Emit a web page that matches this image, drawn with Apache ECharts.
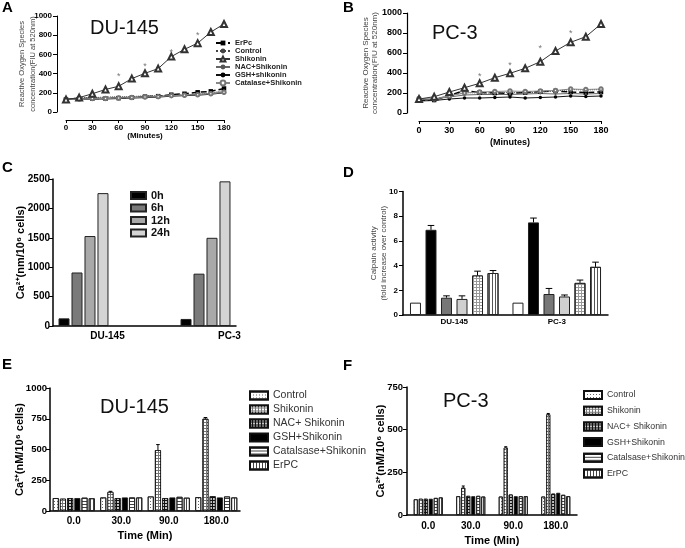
<!DOCTYPE html>
<html><head><meta charset="utf-8">
<script src="https://cdn.jsdelivr.net/npm/echarts/dist/echarts.min.js"></script>
<style>html,body{margin:0;padding:0;background:#fff}#c{width:685px;height:548px}</style>
</head><body><div id="c"></div>
<script>
// ---------- DATA ----------
const minutes = [0,15,30,45,60,75,90,105,120,135,150,165,180];
const rosNames = ['ErPc','Control ','Shikonin ','NAC+Shikonin','GSH+shikonin','Catalase+Shikonin'];
// Panel A (DU-145)
const A_ErPc      = [130,140,140,140,145,150,160,165,180,190,205,215,245];
const A_Control   = [130,150,150,155,160,160,170,170,175,180,185,195,225];
const A_Shikonin  = [130,150,190,235,268,348,403,452,577,653,717,833,917];
const A_NAC       = [130,140,145,145,150,155,160,160,170,175,185,190,210];
const A_GSH       = [130,135,135,135,140,145,150,155,165,170,175,185,200];
const A_Catalase  = [130,135,140,140,145,150,155,160,170,175,180,190,205];
const A_sigX = [60,90,120,150];
const A_sigY = [368,472,618,792];
// Panel B (PC-3)
const B_ErPc      = [125,130,175,225,205,200,195,205,215,220,210,205,210];
const B_Control   = [130,135,180,205,200,200,205,200,210,220,235,230,235];
const B_Shikonin  = [140,163,210,253,297,353,397,447,513,620,707,763,890];
const B_NAC       = [130,140,160,180,185,185,185,190,195,190,195,190,195];
const B_GSH       = [120,125,140,150,150,155,160,150,155,160,170,165,170];
const B_Catalase  = [145,140,170,200,210,215,220,215,220,225,240,235,240];
const B_sigX = [60,90,120,150];
const B_sigY = [365,478,645,795];
// Panel C
const cellLines = ['DU-145','PC-3'];
const cHours = ['0h','6h','12h','24h'];
const C_0h  = [130,120];
const C_6h  = [910,890];
const C_12h = [1530,1500];
const C_24h = [2260,2460];
// Panel D (calpain activity, six treatments)
const D_vals = [[1.0,1.0],[6.9,7.5],[1.4,1.7],[1.3,1.5],[3.2,2.6],[3.4,3.9]];
const D_errs = [[0,0],[0.35,0.35],[0.15,0.45],[0.25,0.12],[0.35,0.23],[0.2,0.38]];
// Panels E/F
const timeCats = ['0.0','30.0','90.0','180.0'];
const efNames = ['Control','Shikonin','NAC+ Shikonin','GSH+Shikonin','Catalsase+Shikonin','ErPC'];
const E_Control  = [105,110,118,112];
const E_Shikonin = [100,155,495,750];
const E_NAC      = [105,105,105,120];
const E_GSH      = [105,110,110,110];
const E_Catalase = [108,110,115,118];
const E_ErPC     = [103,110,108,110];
const E_ShikErr  = [0,5,45,10];
const F_Control  = [92,110,108,108];
const F_Shikonin = [95,160,395,590];
const F_NAC      = [95,112,120,125];
const F_GSH      = [95,110,110,130];
const F_Catalase = [100,112,110,118];
const F_ErPC     = [103,108,110,110];
const F_ShikErr  = [0,10,5,5];

// ---------- STYLE ----------
const FONT = '"Liberation Sans", Arial, sans-serif';
const chart = echarts.init(document.getElementById('c'));

const rosStyles = [
  {symbol:'rect', symbolSize:4.5, line:{color:'#000', width:1.5, type:'dashed'}, item:{color:'#000'}},
  {symbol:'circle', symbolSize:2, line:{color:'#444', width:1, type:'dotted'}, item:{color:'#444'}},
  {symbol:'emptyTriangle', symbolSize:6, line:{color:'#333', width:1}, item:{color:'#333', borderWidth:0.8}},
  {symbol:'circle', symbolSize:2, line:{color:'#666', width:1}, item:{color:'#555'}},
  {symbol:'circle', symbolSize:3.5, line:{color:'#111', width:1}, item:{color:'#000'}},
  {symbol:'emptyCircle', symbolSize:3.5, line:{color:'#888', width:1}, item:{color:'#777', borderWidth:0.8}}
];
const efStyles = [
  {color:'#fff', decal:{symbol:'rect', symbolSize:1, dashArrayX:[1,2], dashArrayY:[1,2], color:'#666'}},
  {color:'#777', decal:{symbol:'rect', symbolSize:1, dashArrayX:[2,1], dashArrayY:[2,1], color:'#fff'}},
  {color:'#111', decal:{symbol:'circle', symbolSize:1, dashArrayX:[2,1], dashArrayY:[2,1], color:'#fff'}},
  {color:'#000'},
  {color:'#fff', decal:{symbol:'rect', symbolSize:1, dashArrayX:[1,0], dashArrayY:[1,2], color:'#444'}},
  {color:'#fff', decal:{symbol:'rect', symbolSize:1, dashArrayX:[1,2], dashArrayY:[1,0], color:'#444'}}
];
const dStyles = [
  {color:'#fff'},
  {color:'#000'},
  {color:'#777'},
  {color:'#d0d0d0'},
  {color:'#999', decal:{symbol:'rect', symbolSize:1, dashArrayX:[2,1], dashArrayY:[2,1], color:'#fff'}},
  {color:'#fff', decal:{symbol:'rect', symbolSize:1, dashArrayX:[1,2], dashArrayY:[1,0], color:'#555'}}
];
const cColors = ['#000','#7a7a7a','#a9a9a9','#d4d4d4'];

function lbl(size, extra){ return Object.assign({fontSize:size, fontWeight:'bold', color:'#000', fontFamily:FONT}, extra||{}); }
function line(w){ return {show:true, onZero:false, lineStyle:{color:'#000', width:w}}; }
const plain = v => String(v);

const grids = [
  {left:66, top:16, width:158, height:96},
  {left:419, top:13, width:182, height:100},
  {left:53, top:179, width:183, height:147},
  {left:403, top:191.5, width:205, height:123.5},
  {left:50, top:388, width:190, height:123},
  {left:407, top:387, width:170, height:128}
].map(g => Object.assign({containLabel:false, outerBoundsMode:'none'}, g));

const xAxes = [
  {gridIndex:0, type:'value', min:0, max:180, interval:30, offset:8, axisLine:line(1), axisTick:{length:3, lineStyle:{color:'#000'}},
   axisLabel:lbl(8,{margin:4, formatter:plain}), splitLine:{show:false}, name:'(Minutes)', nameLocation:'middle', nameGap:12, nameMoveOverlap:false, nameTextStyle:lbl(8)},
  {gridIndex:1, type:'value', min:0, max:180, interval:30, offset:8, axisLine:line(1.2), axisTick:{length:3, lineStyle:{color:'#000'}},
   axisLabel:lbl(9,{margin:5, formatter:plain}), splitLine:{show:false}, name:'(Minutes)', nameLocation:'middle', nameGap:17, nameMoveOverlap:false, nameTextStyle:lbl(9)},
  {gridIndex:2, type:'category', data:[cellLines[0],'',cellLines[1]], axisLine:line(1.5), axisTick:{show:false},
   axisLabel:lbl(10,{margin:5, interval:0, padding:[0,0,0,48]})},
  {gridIndex:3, type:'category', data:cellLines, axisLine:line(1.5), axisTick:{show:false}, axisLabel:lbl(8,{margin:3, interval:0})},
  {gridIndex:4, type:'category', data:timeCats, axisLine:line(1.5), axisTick:{show:false}, axisLabel:lbl(10,{margin:5, interval:0}),
   name:'Time (Min)', nameLocation:'middle', nameGap:19, nameMoveOverlap:false, nameTextStyle:lbl(11)},
  {gridIndex:5, type:'category', data:timeCats, axisLine:line(1.5), axisTick:{show:false}, axisLabel:lbl(10,{margin:6, interval:0}),
   name:'Time (Min)', nameLocation:'middle', nameGap:20, nameMoveOverlap:false, nameTextStyle:lbl(11)}
];
function yAx(gi, max, interval, offset, size, margin, name, gap, nameStyle, w){
  return {gridIndex:gi, type:'value', min:0, max:max, interval:interval, offset:offset, axisLine:line(w),
    axisTick:{show:true, length:4, lineStyle:{color:'#000', width:1}}, axisLabel:lbl(size,{margin:margin, formatter:plain}), splitLine:{show:false},
    name:name, nameLocation:'middle', nameRotate:90, nameGap:gap, nameMoveOverlap:false, nameTextStyle:nameStyle};
}
const yAxes = [
  yAx(0,1000,200,9,8,5,'Reactive Oxygen Species\nconcentration(FIU at 520nm)',19,{fontSize:7.5,color:'#444',lineHeight:11,fontFamily:FONT},1),
  yAx(1,1000,200,12,9,5,'Reactive Oxygen Species\nconcentration(FIU at 520nm)',28,{fontSize:8,color:'#444',lineHeight:9,fontFamily:FONT},1.2),
  yAx(2,2500,500,0,10,3,'Ca\u00B2\u207A(nm/10\u2076 cells)',27,lbl(11),1.5),
  yAx(3,10,2,0,8,5,'Calpain activity\n(fold increase over control)',14,{fontSize:8,color:'#444',lineHeight:10,fontFamily:FONT},1.5),
  yAx(4,1000,250,0,9.5,3,'Ca\u00B2\u207A(nM/10\u2076 cells)',25,lbl(11),1.5),
  yAx(5,750,250,0,9.5,4,'Ca\u00B2\u207A(nM/10\u2076 cells)',21,lbl(11),1.5)
];

const series = [];
const A_sets = [A_ErPc,A_Control,A_Shikonin,A_NAC,A_GSH,A_Catalase];
const B_sets = [B_ErPc,B_Control,B_Shikonin,B_NAC,B_GSH,B_Catalase];
[[A_sets,0],[B_sets,1]].forEach(([sets,gi]) => {
  sets.forEach((vals,k) => {
    const s = rosStyles[k];
    series.push({type:'line', name:rosNames[k], xAxisIndex:gi, yAxisIndex:gi, symbol:s.symbol, symbolSize:s.symbolSize,
      showAllSymbol:true, lineStyle:s.line, itemStyle:s.item, z:k===2?4:3, animation:false,
      data:minutes.map((m,i)=>[m, vals[i]])});
  });
});
[[A_sigX,A_sigY,0],[B_sigX,B_sigY,1]].forEach(([xs,ys,gi]) => {
  series.push({type:'scatter', name:'sig'+gi, xAxisIndex:gi, yAxisIndex:gi, symbol:'circle', symbolSize:1,
    itemStyle:{color:'rgba(0,0,0,0)'}, label:{show:true, position:'inside', formatter:'*', fontSize:9, color:'#555', fontFamily:FONT},
    data:xs.map((x,i)=>[x, ys[i]]), animation:false});
});
// Panel C
[C_0h,C_6h,C_12h,C_24h].forEach((v,i) => {
  series.push({type:'bar', name:cHours[i], xAxisIndex:2, yAxisIndex:2, barWidth:11, barGap:'18%',
    itemStyle:{color:cColors[i], borderColor:'#222', borderWidth:1}, data:[v[0],'-',v[1]], animation:false});
});
// error bar helper
function errSeries(gi, count, barWidth, barGap, items){
  return {type:'custom', xAxisIndex:gi, yAxisIndex:gi, z:5, animation:false, silent:true,
    encode:{x:0, y:1}, data:items,
    renderItem:function(params, api){
      const layout = api.barLayout({count:count, barWidth:barWidth, barGap:barGap});
      const k = api.value(3);
      const base = api.coord([api.value(0), api.value(1)]);
      const top = api.coord([api.value(0), api.value(1)+api.value(2)]);
      const x = base[0] + layout[k].offsetCenter;
      const hw = Math.max(1.5, layout[k].width*0.3);
      return {type:'group', children:[
        {type:'line', shape:{x1:x, y1:base[1], x2:x, y2:top[1]}, style:{stroke:'#000', lineWidth:1}},
        {type:'line', shape:{x1:x-hw, y1:top[1], x2:x+hw, y2:top[1]}, style:{stroke:'#000', lineWidth:1}}
      ]};
    }};
}
// Panel D
const dErr = [];
D_vals.forEach((v,k) => {
  series.push({type:'bar', name:'Calpain '+(k+1), xAxisIndex:3, yAxisIndex:3, barWidth:11, barGap:'41%',
    itemStyle:Object.assign({borderColor:'#222', borderWidth:1}, dStyles[k]), data:v, animation:false});
  v.forEach((val,g) => { if (D_errs[k][g] > 0) dErr.push([g, val, D_errs[k][g], k]); });
});
series.push(errSeries(3, 6, 11, '41%', dErr));
// Panels E, F
const E_sets = [E_Control,E_Shikonin,E_NAC,E_GSH,E_Catalase,E_ErPC];
const F_sets = [F_Control,F_Shikonin,F_NAC,F_GSH,F_Catalase,F_ErPC];
[[E_sets,4,6,'20%',E_ShikErr],[F_sets,5,4,'25%',F_ShikErr]].forEach(([sets,gi,bw,gap,errs]) => {
  sets.forEach((vals,k) => {
    series.push({type:'bar', name:efNames[k], xAxisIndex:gi, yAxisIndex:gi, barWidth:bw, barGap:gap,
      itemStyle:Object.assign({borderColor:'#111', borderWidth:0.8}, efStyles[k]), data:vals, animation:false});
  });
  const items = [];
  errs.forEach((e,g) => { if (e > 0) items.push([g, sets[1][g], e, 1]); });
  series.push(errSeries(gi, 6, bw, gap, items));
});

function letter(t, l, tp){ return {text:t, left:l, top:tp, padding:0, textStyle:{fontSize:15, fontWeight:'bold', color:'#000', fontFamily:FONT}}; }
function ptitle(t, l, tp){ return {text:t, left:l, top:tp, padding:0, textStyle:{fontSize:20, fontWeight:'normal', color:'#111', fontFamily:FONT}}; }

chart.setOption({
  backgroundColor:'#fff',
  animation:false,
  title:[letter('A',2,0), letter('B',343,0), letter('C',2,160), letter('D',343,165), letter('E',2,357), letter('F',343,358),
         ptitle('DU-145',90,18), ptitle('PC-3',432,23), ptitle('DU-145',100,397), ptitle('PC-3',443,391)],
  legend:[
    {left:215, top:39, padding:0, orient:'vertical', itemWidth:14, itemHeight:6, itemGap:0,
     textStyle:{fontSize:7.5, fontWeight:'bold', color:'#222', fontFamily:FONT}, data:rosNames},
    {left:130, top:190, padding:0, orient:'vertical', icon:'rect', itemWidth:15, itemHeight:7, itemGap:1.5,
     textStyle:lbl(11,{color:'#111'}), data:cHours},
    {left:249, top:390, padding:0, orient:'vertical', icon:'rect', itemWidth:18, itemHeight:8, itemGap:3,
     textStyle:{fontSize:10.5, color:'#333', fontFamily:FONT}, data:efNames},
    {left:583, top:390, padding:0, orient:'vertical', icon:'rect', itemWidth:18, itemHeight:8, itemGap:5.7,
     textStyle:{fontSize:8.8, color:'#333', fontFamily:FONT}, data:efNames}
  ],
  grid:grids, xAxis:xAxes, yAxis:yAxes, series:series
});
</script></body></html>
